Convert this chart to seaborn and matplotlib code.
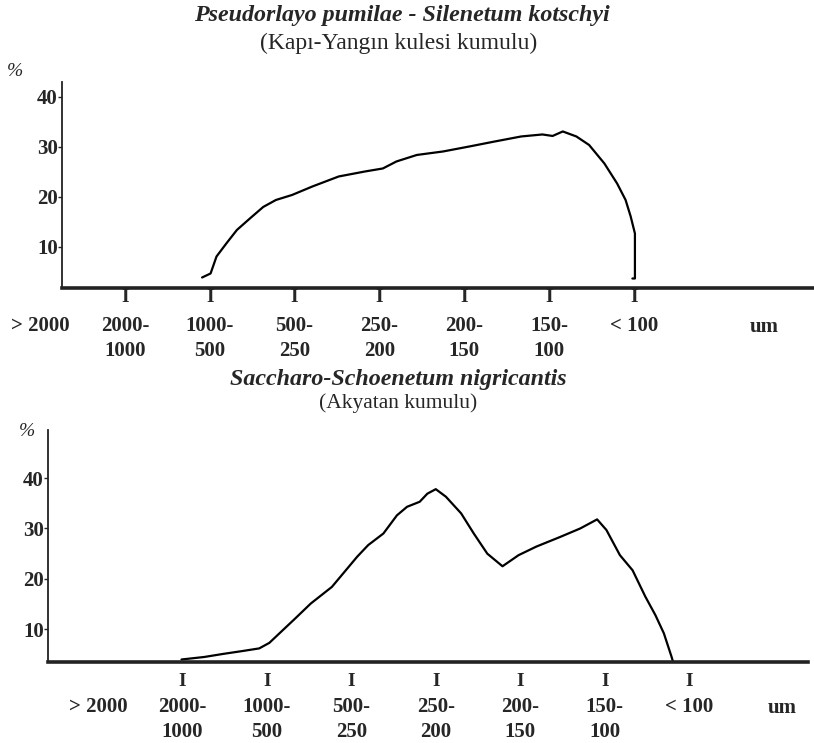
import matplotlib
matplotlib.use("Agg")
import matplotlib.pyplot as plt
import matplotlib.transforms as mtransforms
import seaborn as sns

# size classes (um), shared by both panels
size_classes = ["> 2000", "2000-\n1000", "1000-\n500", "500-\n250",
                "250-\n200", "200-\n150", "150-\n100", "< 100"]

# top panel: Pseudorlayo pumilae - Silenetum kotschyi (Kapı-Yangın kulesi kumulu)
top_x = [1.91, 2.01, 2.08, 2.20, 2.32, 2.48, 2.63, 2.78, 2.97, 3.21, 3.52, 3.83,
         4.04, 4.20, 4.44, 4.75, 5.06, 5.36, 5.67, 5.92, 6.04, 6.16, 6.32, 6.47,
         6.65, 6.80, 6.90, 6.96, 7.01, 7.01, 6.98]
top_pct = [3.9, 4.7, 8.1, 10.8, 13.4, 15.8, 18.0, 19.4, 20.4, 22.1, 24.1, 25.1,
           25.7, 27.1, 28.4, 29.1, 30.1, 31.1, 32.1, 32.5, 32.2, 33.1, 32.1, 30.4,
           26.7, 22.7, 19.4, 16.1, 12.7, 3.7, 3.7]

# bottom panel: Saccharo-Schoenetum nigricantis (Akyatan kumulu)
bot_x = [0.99, 1.26, 1.48, 1.72, 1.91, 2.03, 2.15, 2.34, 2.52, 2.77, 2.92, 3.07,
         3.20, 3.38, 3.54, 3.66, 3.81, 3.90, 4.00, 4.12, 4.30, 4.45, 4.61, 4.79,
         4.98, 5.19, 5.47, 5.71, 5.91, 6.02, 6.18, 6.33, 6.48, 6.60, 6.70, 6.79,
         6.82]
bot_pct = [4.0, 4.5, 5.1, 5.7, 6.2, 7.3, 9.2, 12.2, 15.1, 18.4, 21.4, 24.4,
           26.7, 29.0, 32.6, 34.3, 35.3, 36.9, 37.8, 36.3, 33.0, 29.0, 25.0, 22.5,
           24.7, 26.4, 28.3, 30.0, 31.8, 29.7, 24.7, 21.7, 16.5, 12.8, 9.2, 4.6,
           2.9]

y_ticks = [10, 20, 30, 40]

sns.set_theme(style="white")
plt.rcParams["font.family"] = ["Liberation Serif", "DejaVu Serif"]

fig = plt.figure(figsize=(8.14, 7.43), dpi=100)


def draw_panel(ax, xs, ys, xlim, ylim, y_axis_x, um_x, i_pad, lab_pad):
    sns.lineplot(x=xs, y=ys, ax=ax, color="black", linewidth=1.6,
                 sort=False, estimator=None)
    for side in ("top", "right"):
        ax.spines[side].set_visible(False)
    ax.spines["bottom"].set_linewidth(2.6)
    ax.spines["bottom"].set_color("#222222")
    ax.spines["left"].set_linewidth(1.3)
    ax.spines["left"].set_color("#222222")
    ax.spines["left"].set_position(("data", y_axis_x))
    ax.spines["bottom"].set_bounds(y_axis_x, xlim[1])

    ax.set_yticks(y_ticks)
    ax.set_yticklabels([str(v) for v in y_ticks], fontweight="bold", fontsize=15)
    ax.tick_params(axis="y", left=True, length=3, width=1, pad=0)

    # "I" marks under the class boundaries, class names further down
    ax.xaxis.remove_overlapping_locs = False
    ax.set_xticks(range(1, len(size_classes)))
    ax.set_xticklabels(["I"] * (len(size_classes) - 1), fontweight="bold",
                       fontsize=14)
    ax.set_xticks(range(len(size_classes)), minor=True)
    ax.set_xticklabels(size_classes, minor=True, fontweight="bold", fontsize=15,
                       linespacing=1.35)
    ax.tick_params(axis="x", which="major", length=0, pad=i_pad)
    ax.tick_params(axis="x", which="minor", length=0, pad=lab_pad)
    ax.set_xlim(*xlim)
    ax.set_ylim(*ylim)

    trans = mtransforms.blended_transform_factory(ax.transData, ax.transAxes)
    ax.annotate("um", xy=(um_x, 0), xycoords=trans, xytext=(0, -lab_pad - 1),
                textcoords="offset points", ha="center", va="top",
                fontweight="bold", fontsize=15)
    ax.set_xlabel("")
    ax.set_ylabel("")


ax_top = fig.add_axes([31.5 / 814, 0.6124, (814 - 31.5) / 814, 0.2773])
draw_panel(ax_top, top_x, top_pct, (-0.1, 9.12), (1.8, 43), 0.26, 8.53, 1, 20)

ax_bot = fig.add_axes([0.059, 0.109, 0.934, 0.312])
draw_panel(ax_bot, bot_x, bot_pct, (-0.59, 8.41), (3.5, 49.5), -0.59, 8.1, 8, 25)

fig.text(402 / 814, 1 - 15 / 743, "Pseudorlayo pumilae - Silenetum kotschyi",
         ha="center", va="center", fontsize=17.3, fontweight="bold",
         style="italic")
fig.text(399 / 814, 1 - 43 / 743, "(Kapı-Yangın kulesi kumulu)",
         ha="center", va="center", fontsize=17)
fig.text(15 / 814, 1 - 71 / 743, "%", ha="center", va="center", fontsize=14,
         style="italic")

fig.text(398 / 814, 1 - 379 / 743, "Saccharo-Schoenetum nigricantis",
         ha="center", va="center", fontsize=17.3, fontweight="bold",
         style="italic")
fig.text(398 / 814, 1 - 403 / 743, "(Akyatan kumulu)",
         ha="center", va="center", fontsize=15.5)
fig.text(27 / 814, 1 - 432 / 743, "%", ha="center", va="center", fontsize=14,
         style="italic")

fig.savefig("out.png", dpi=100)
